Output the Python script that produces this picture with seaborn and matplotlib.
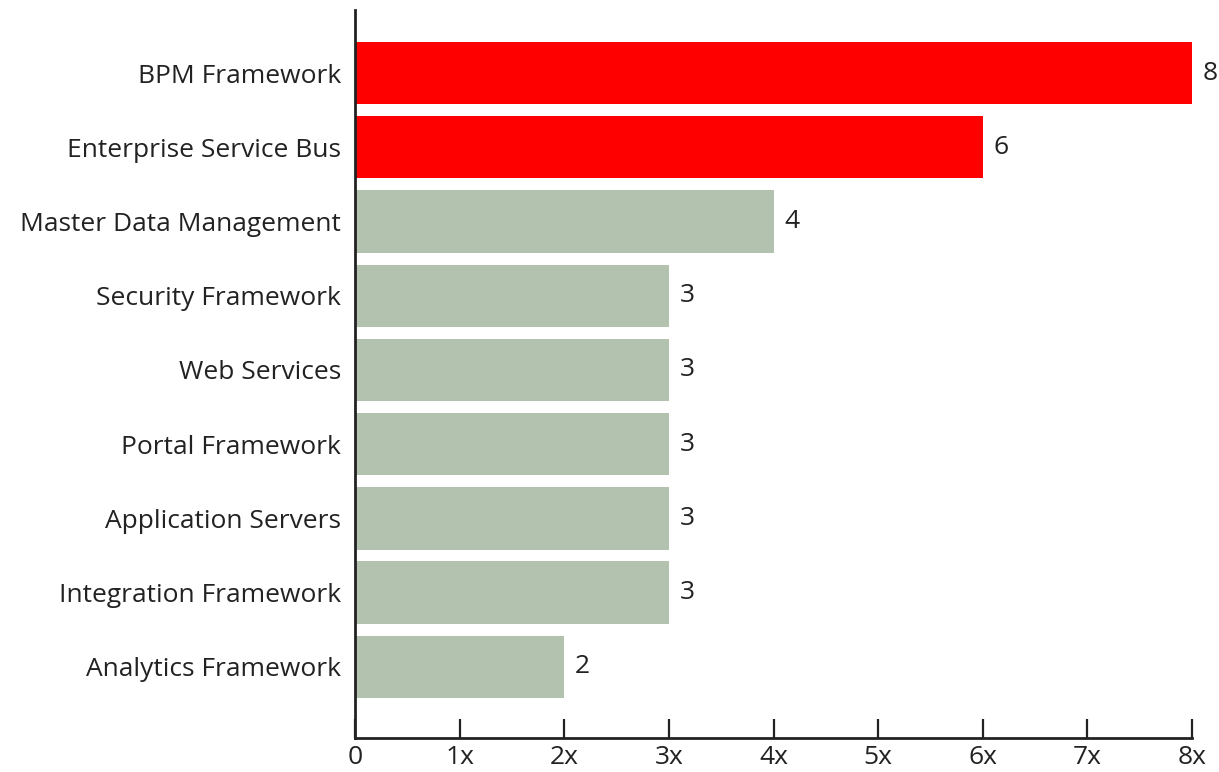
import pandas as pd
import seaborn as sns
import matplotlib.pyplot as plt

categories = ["BPM Framework", "Enterprise Service Bus", "Master Data Management",
              "Security Framework", "Web Services", "Portal Framework",
              "Application Servers", "Integration Framework", "Analytics Framework"]
values = [8, 6, 4, 3, 3, 3, 3, 3, 2]
highlight = ["top", "top", "rest", "rest", "rest", "rest", "rest", "rest", "rest"]
tick_labels = ["0", "1x", "2x", "3x", "4x", "5x", "6x", "7x", "8x"]

df = pd.DataFrame({"category": categories, "value": values, "group": highlight})

sns.set_style("white")
plt.rcParams['font.family'] = ['Open Sans', 'DejaVu Sans']

fig = plt.figure(figsize=(12.19, 7.72), dpi=100)
ax = fig.add_axes([355/1219, 1 - 738/772, (1192 - 355)/1219, 728/772])

sns.barplot(data=df, y="category", x="value", hue="group", orient="h",
            palette={"top": "#ff0000", "rest": "#b3c2ae"}, dodge=False,
            saturation=1, width=0.84, legend=False, ax=ax, linewidth=0)

fs = 19
for i, v in enumerate(values):
    ax.text(v + 0.1, i, str(v), va="center", ha="left", fontsize=fs, color="#222222")

ax.set_xlim(0, 8)
ax.set_ylim(8.96, -0.85)
ax.set_xticks(range(9))
ax.set_xticklabels(tick_labels, fontsize=fs, color="#222222")
ax.tick_params(axis="x", bottom=True, direction="in", length=14, width=1.6,
               color="#222222", pad=5)
ax.tick_params(axis="y", left=False, length=0, labelsize=fs, labelcolor="#222222", pad=10)
ax.set_xlabel("")
ax.set_ylabel("")
for s in ["top", "right"]:
    ax.spines[s].set_visible(False)
for s in ["left", "bottom"]:
    ax.spines[s].set_linewidth(2)
    ax.spines[s].set_color("#222222")

fig.savefig("out.png", dpi=100)
